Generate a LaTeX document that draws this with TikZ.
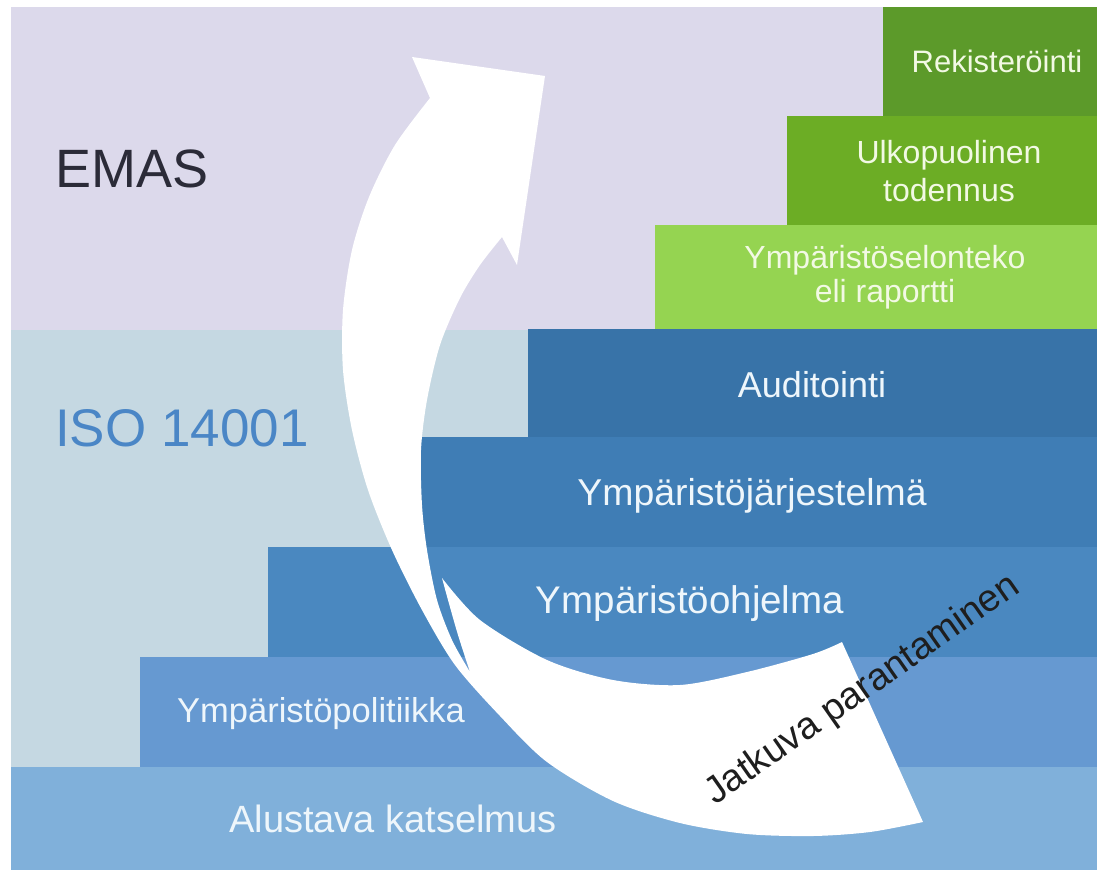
\documentclass[tikz,border=0pt]{standalone}
\usepackage{fontspec}
\setmainfont{Liberation Sans}
\definecolor{emasbg}{HTML}{DCD9EB}
\definecolor{isobg}{HTML}{C5D8E2}
\definecolor{bandA}{HTML}{80B0DA}
\definecolor{bandB}{HTML}{6699D1}
\definecolor{bandC}{HTML}{4A88C0}
\definecolor{bandD}{HTML}{3F7DB5}
\definecolor{bandE}{HTML}{3873A8}
\definecolor{greenA}{HTML}{95D451}
\definecolor{greenB}{HTML}{6CAD25}
\definecolor{greenC}{HTML}{5C9A2A}
\definecolor{labelwhite}{HTML}{EEF6FB}
\definecolor{greenwhite}{HTML}{F2F9E4}
\definecolor{emastext}{HTML}{2B2B38}
\definecolor{isotext}{HTML}{4A86C6}
\definecolor{jattext}{HTML}{1E1E1E}
\begin{document}
\begin{tikzpicture}[x=1pt,y=-1pt,
  barlabel/.style={text=labelwhite, font=\fontsize{36}{40}\selectfont, inner sep=0pt, anchor=base},
  greenlabel/.style={text=greenwhite, font=\fontsize{32}{38}\selectfont, inner sep=0pt, anchor=base},
  biglabel/.style={inner sep=0pt, anchor=base west, font=\fontsize{54}{60}\selectfont},
  arrowfill/.style={fill=white}]
\useasboundingbox (0,0) rectangle (1097,870);
\fill[white] (0,0) rectangle (1097,870);
% background regions
\fill[emasbg] (11,7) rectangle (1097,330);
\fill[isobg] (11,330) rectangle (1097,767);
% steps
\fill[bandA] (11,767) rectangle (1097,870);
\fill[bandB] (140,657) rectangle (1097,767);
\fill[bandC] (268,547) rectangle (1097,657);
\fill[bandD] (420,437) rectangle (1097,547);
\fill[bandE] (528,329) rectangle (1097,437);
\fill[greenA] (655,225) rectangle (1097,329);
\fill[greenB] (787,116) rectangle (1097,225);
\fill[greenC] (883,7) rectangle (1097,116);
% labels
\node[biglabel, text=emastext] (emas) at (55,187) {EMAS};
\node[biglabel, text=isotext, font=\fontsize{53}{60}\selectfont] (iso) at (55,446) {ISO 14001};
\node[barlabel, font=\fontsize{38}{42}\selectfont] (alustava) at (393,832) {Alustava katselmus};
\node[barlabel, font=\fontsize{34.5}{40}\selectfont] (politiikka) at (321,722) {Ympäristöpolitiikka};
\node[barlabel, font=\fontsize{38.5}{42}\selectfont] (ohjelma) at (690,613) {Ympäristöohjelma};
\node[barlabel, font=\fontsize{37.4}{42}\selectfont] (jarjestelma) at (752,505) {Ympäristöjärjestelmä};
\node[barlabel] (auditointi) at (812,397) {Auditointi};
\node[greenlabel] (selonteko1) at (885,268) {Ympäristöselonteko};
\node[greenlabel] (selonteko2) at (885,302) {eli raportti};
\node[greenlabel] (ulko1) at (949,163) {Ulkopuolinen};
\node[greenlabel] (ulko2) at (949,201) {todennus};
\node[greenlabel, font=\fontsize{31}{36}\selectfont] (rekisterointi) at (997,72) {Rekisteröinti};
% curved arrow
\fill[arrowfill]
  plot[smooth] coordinates {(923,822) (870,832) (813,836) (747,834) (680,823) (613,801) (547,762) (500,716) (455,665) (422,610) (392,550) (368,490) (352,430) (343,370) (343,310) (352,250) (369,197) (395,145) (430,98)}
  -- (412,57) -- (545,76) -- (517,265) -- (502,237)
  -- plot[smooth] coordinates {(502,237) (480,265) (460,298) (440,345) (427,400) (421,450) (422,505) (427,550) (437,600) (452,640) (470,672)}
  -- plot[smooth] coordinates {(470,672) (458,635) (448,600) (442,578)}
  -- plot[smooth] coordinates {(442,578) (480,620) (547,660) (613,680) (680,685) (747,672) (813,654) (842,642)}
  -- cycle;
\node[anchor=base west, inner sep=0pt, rotate=35, text=jattext, font=\fontsize{38}{42}\selectfont] (jatkuva) at (715,806) {Jatkuva parantaminen};
\end{tikzpicture}
\end{document}
